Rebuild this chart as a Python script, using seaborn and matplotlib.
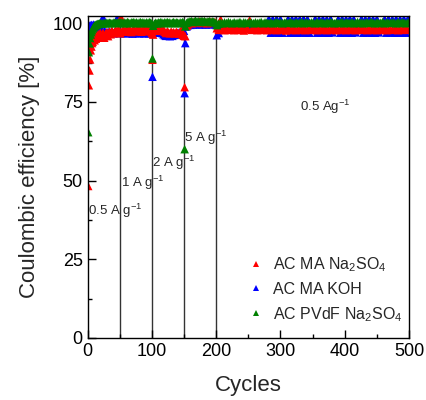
import numpy as np
import pandas as pd
import matplotlib
matplotlib.use("Agg")
import matplotlib.pyplot as plt
from matplotlib.ticker import MultipleLocator
import seaborn as sns

# Cycle numbers for each current-density step (sampled)
cyc_05a = list(range(1, 21)) + list(range(22, 51, 2))
cyc_1 = [51] + list(range(52, 101, 2))
cyc_2 = [101] + list(range(102, 151, 2))
cyc_5 = [151] + list(range(152, 201, 2))
cyc_05b = list(range(201, 499, 3))

# Coulombic efficiency [%] — AC MA Na2SO4
red_05a = [48.3, 80.3, 85.0, 88.5, 91.4, 92.6, 93.7, 94.1, 94.9, 95.3,
           94.6, 95.8, 95.1, 96.2, 95.5, 96.4, 95.4, 96.7, 95.9, 96.9,
           96.1, 97.0, 95.4, 96.7, 97.2, 95.9, 97.4, 96.5, 97.7, 96.8,
           97.3, 97.9, 97.1, 98.1, 97.5]
red_1 = [96.8, 101.9, 97.6, 98.1, 97.3, 97.9, 98.2, 97.5, 98.0, 97.2,
         97.8, 98.3, 97.4, 97.9, 98.1, 97.6, 98.2, 97.3, 97.9, 98.0,
         97.5, 98.2, 97.7, 97.9, 97.4, 96.9]
red_2 = [88.4, 96.4, 97.9, 98.3, 97.6, 98.4, 98.0, 98.5, 97.8, 98.2,
         97.3, 96.9, 97.5, 97.1, 96.8, 97.4, 96.9, 97.2, 96.8, 97.3,
         97.0, 96.7, 97.4, 97.9, 96.3, 96.0]
red_5 = [79.7, 95.9, 99.2, 99.6, 100.1, 100.3, 100.0, 100.4, 100.2, 100.5,
         100.1, 100.3, 100.6, 100.2, 100.4, 100.1, 100.5, 100.3, 100.0, 100.4,
         100.2, 100.5, 100.3, 100.1, 100.4, 100.2]
red_05b = [98.4, 97.9, 101.2, 98.1, 97.8, 98.2, 97.9, 98.0, 98.3, 97.8,
           98.1, 97.9, 98.2, 98.0, 97.7, 98.1, 98.3, 101.0, 97.9, 98.0,
           98.2, 97.8, 98.1, 97.9, 98.0, 98.3, 97.8, 98.1, 97.9, 98.2,
           98.0, 97.8, 98.1, 97.9, 98.2, 98.0, 97.7, 98.1, 98.0, 97.9,
           98.2, 97.8, 98.0, 98.1, 97.9, 98.3, 97.8, 98.0, 98.1, 97.9,
           98.0, 98.2, 97.8, 98.1, 97.9, 98.0, 98.2, 97.8, 98.1, 97.9,
           98.2, 98.0, 97.8, 98.1, 97.9, 98.0, 98.2, 97.8, 98.1, 98.0,
           97.9, 98.2, 97.8, 98.0, 98.1, 97.9, 98.2, 98.0, 97.8, 98.1,
           98.0, 97.9, 98.2, 97.8, 98.1, 98.0, 97.9, 98.2, 97.8, 98.0,
           98.1, 97.9, 98.0, 98.2, 97.8, 98.1, 97.9, 98.0, 98.2, 97.9]

# Coulombic efficiency [%] — AC MA KOH
blue_05a = [98.6, 99.2, 98.9, 99.4, 99.0, 99.5, 99.3, 98.8, 99.6, 99.1,
            99.4, 98.9, 99.2, 99.5, 98.7, 99.0, 99.3, 98.6, 99.1, 98.4,
            98.0, 101.9, 97.6, 97.2, 97.0, 97.3, 96.9, 97.1, 97.4, 96.8,
            97.2, 97.0, 101.6, 97.3, 96.9]
blue_1 = [97.1, 96.9, 97.2, 97.0, 96.8, 97.3, 97.1, 96.9, 97.2, 97.0,
          96.7, 97.1, 96.9, 97.2, 97.0, 96.8, 97.1, 96.9, 97.2, 96.8,
          97.0, 96.9, 97.1, 96.8, 97.0, 96.9]
blue_2 = [83.0, 97.0, 97.3, 97.1, 97.4, 97.2, 97.0, 97.3, 96.9, 96.5,
          96.2, 96.0, 96.3, 96.1, 95.9, 96.2, 96.0, 96.3, 96.4, 96.6,
          96.8, 97.0, 97.2, 97.5, 97.7, 97.6]
blue_5 = [77.8, 93.7, 99.0, 99.4, 99.7, 99.5, 99.8, 99.6, 99.9, 99.7,
          100.0, 99.8, 99.6, 99.9, 99.7, 100.0, 99.8, 99.6, 99.9, 99.7,
          99.8, 100.0, 99.7, 99.9, 99.8, 99.6]
blue_05b = [96.2, 96.9, 99.0, 99.3, 98.9, 99.2, 99.0, 99.4, 98.8, 99.1,
            99.3, 99.0, 99.2, 98.9, 99.1, 99.3, 99.0, 99.2, 98.9, 99.1,
            99.3, 99.0, 99.2, 98.9, 99.1, 99.2, 99.0, 101.4, 97.0, 101.3,
            97.1, 101.4, 97.0, 101.3, 97.0, 99.0, 99.1, 101.4, 97.0, 101.3,
            97.1, 101.4, 97.0, 101.3, 97.1, 101.4, 97.0, 101.3, 97.0, 99.0,
            99.1, 101.4, 97.0, 101.3, 97.1, 101.4, 97.0, 101.3, 97.0, 101.4,
            97.1, 99.0, 99.1, 101.3, 97.0, 101.4, 97.1, 101.3, 97.0, 101.4,
            97.0, 101.3, 97.1, 99.0, 99.1, 101.4, 97.0, 101.3, 97.1, 101.4,
            97.0, 101.3, 97.0, 101.4, 97.1, 99.0, 99.1, 101.3, 97.0, 101.4,
            97.1, 101.3, 97.0, 101.4, 97.0, 101.3, 97.1, 101.4, 97.0, 101.3]

# Coulombic efficiency [%] — AC PVdF Na2SO4
green_05a = [65.4, 90.8, 93.6, 95.3, 96.4, 97.2, 97.8, 98.3, 98.7, 99.0,
             99.2, 99.4, 99.5, 99.6, 99.7, 99.8, 99.8, 99.9, 99.9, 100.0,
             99.9, 100.0, 100.1, 100.0, 100.2, 100.1, 100.2, 100.1, 100.0, 100.2,
             100.1, 100.3, 100.2, 100.1, 100.3]
green_1 = [100.1, 100.3, 100.2, 100.0, 100.3, 100.1, 100.4, 100.2, 100.0, 100.3,
           100.2, 100.4, 100.1, 100.3, 100.0, 100.2, 100.4, 100.1, 100.3, 100.2,
           100.0, 100.3, 100.1, 100.4, 100.2, 100.0]
green_2 = [88.8, 99.2, 99.9, 100.2, 100.0, 100.3, 100.1, 100.4, 100.2, 100.0,
           100.3, 100.2, 100.4, 100.1, 100.3, 100.0, 100.2, 100.4, 100.1, 100.3,
           100.2, 100.0, 100.3, 100.1, 100.4, 100.2]
green_5 = [60.0, 99.0, 100.1, 100.4, 100.6, 100.5, 100.7, 100.4, 100.6, 100.8,
           100.5, 100.7, 100.4, 100.6, 100.8, 100.5, 100.7, 100.4, 100.6, 100.5,
           100.7, 100.4, 100.6, 100.5, 100.3, 100.2]
green_05b = [99.4, 99.9, 100.2, 100.0, 100.3, 100.1, 100.4, 100.2, 100.0, 100.3,
             100.1, 100.2, 100.4, 100.0, 100.3, 100.2, 100.1, 100.4, 100.2, 100.0,
             100.3, 100.1, 100.2, 100.4, 100.0, 100.3, 100.2, 100.1, 100.3, 100.0,
             100.2, 100.4, 100.1, 100.3, 100.0, 100.2, 100.3, 100.1, 100.4, 100.2,
             100.0, 100.3, 100.1, 100.2, 100.4, 100.0, 100.3, 100.2, 100.1, 100.3,
             100.2, 100.0, 100.4, 100.1, 100.3, 100.2, 100.0, 100.3, 100.1, 100.4,
             100.2, 100.0, 100.3, 100.1, 100.2, 100.4, 100.0, 100.3, 100.2, 100.1,
             100.3, 100.0, 100.2, 100.4, 100.1, 100.3, 100.0, 100.2, 100.3, 100.1,
             100.4, 100.2, 100.0, 100.3, 100.1, 100.2, 100.4, 100.0, 100.3, 100.2,
             100.1, 100.3, 100.2, 100.0, 100.4, 100.1, 100.3, 100.2, 100.0, 100.3]

labels = [r"AC MA Na$_2$SO$_4$", r"AC MA KOH", r"AC PVdF Na$_2$SO$_4$"]
colors = ["#ff0000", "#0000ff", "#008000"]

step_cycles = [50, 100, 150, 200]
step_texts = [r"0.5 A g$^{-1}$", r"1 A g$^{-1}$", r"2 A g$^{-1}$",
              r"5 A g$^{-1}$", r"0.5 Ag$^{-1}$"]
step_text_pos = [(0.5, 40.3), (52.5, 49.2), (101.0, 55.6), (150.5, 63.5),
                 (330.0, 73.3)]

cycles = cyc_05a + cyc_1 + cyc_2 + cyc_5 + cyc_05b
series = {
    labels[0]: red_05a + red_1 + red_2 + red_5 + red_05b,
    labels[1]: blue_05a + blue_1 + blue_2 + blue_5 + blue_05b,
    labels[2]: green_05a + green_1 + green_2 + green_5 + green_05b,
}

# Drawing order: KOH underneath, PVdF on top
frames = []
for name in [labels[1], labels[0], labels[2]]:
    frames.append(pd.DataFrame({"cycle": cycles, "ce": series[name],
                                "electrode": name}))
df = pd.concat(frames, ignore_index=True)

sns.set_style("ticks")
plt.rcParams["font.family"] = ["Liberation Sans", "DejaVu Sans"]
plt.rcParams["mathtext.fontset"] = "custom"
plt.rcParams["mathtext.rm"] = "Liberation Sans"
plt.rcParams["mathtext.it"] = "Liberation Sans:italic"
plt.rcParams["mathtext.default"] = "regular"

fig = plt.figure(figsize=(4.27, 4.0), dpi=100)
ax = fig.add_axes([0.205, 0.155, 0.753, 0.805])

for c in step_cycles:
    ax.axvline(c, color="#333333", lw=1.0, zorder=0)

sns.scatterplot(data=df, x="cycle", y="ce", hue="electrode", hue_order=labels,
                palette=dict(zip(labels, colors)), marker="^", s=38,
                linewidth=0, ax=ax, zorder=2)

for txt, (x, y) in zip(step_texts, step_text_pos):
    ax.text(x, y, txt, fontsize=9.5, ha="left", va="center", zorder=3)

ax.set_xlim(0, 500)
ax.set_ylim(0, 102.3)
ax.xaxis.set_major_locator(MultipleLocator(100))
ax.xaxis.set_minor_locator(MultipleLocator(50))
ax.yaxis.set_major_locator(MultipleLocator(25))
ax.yaxis.set_minor_locator(MultipleLocator(12.5))
ax.tick_params(which="both", direction="in", width=1, colors="black",
               labelsize=13, top=False, right=False)
ax.tick_params(which="major", length=6)
ax.tick_params(which="minor", length=3)
for sp in ax.spines.values():
    sp.set_linewidth(1.0)
    sp.set_color("black")

ax.set_xlabel("Cycles", fontsize=16, labelpad=11)
ax.set_ylabel("Coulombic efficiency [%]", fontsize=16, labelpad=9)

handles, hl = ax.get_legend_handles_labels()
ax.legend(handles, hl, loc="lower right", bbox_to_anchor=(1.0, 0.025),
          frameon=False, fontsize=11.5, markerscale=0.7, handletextpad=0.5,
          labelspacing=0.5, borderaxespad=0.0, handlelength=1.2)

fig.savefig("out.png", dpi=100)
